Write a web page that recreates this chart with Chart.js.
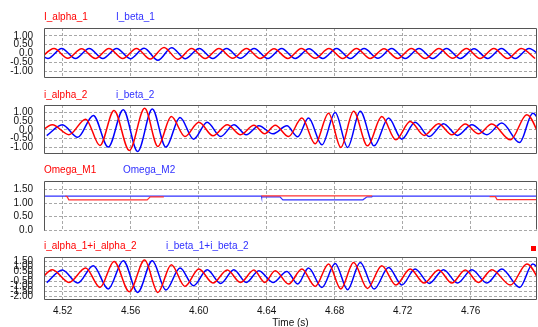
<!DOCTYPE html>
<html>
<head>
<meta charset="utf-8">
<script src="https://cdn.jsdelivr.net/npm/chart.js@4"></script>
<style>
  body { margin: 0; background: #fff; }
  #wrap { position: relative; width: 538px; height: 327px; overflow: hidden; font-family: "Liberation Sans", Arial, sans-serif; font-size: 10px; }
  canvas { position: absolute; left: 0; }
  .lbl { position: absolute; line-height: 12px; white-space: nowrap; }
  .red { color: #ff0000; }
  .blue { color: #3030ff; }
  #mark { position: absolute; left: 531px; top: 246px; width: 5px; height: 5px; background: #ff0000; }
</style>
</head>
<body>
<div id="wrap">
  <canvas id="c1" width="538" height="66" style="top:20px"></canvas>
  <canvas id="c2" width="538" height="65" style="top:97px"></canvas>
  <canvas id="c3" width="538" height="65" style="top:173px"></canvas>
  <canvas id="c4" width="538" height="81" style="top:249px"></canvas>

  <div class="lbl red" style="left:44px;top:11px">I_alpha_1</div>
  <div class="lbl blue" style="left:116px;top:11px">I_beta_1</div>
  <div class="lbl red" style="left:44px;top:89px">i_alpha_2</div>
  <div class="lbl blue" style="left:116px;top:89px">i_beta_2</div>
  <div class="lbl red" style="left:44px;top:164px">Omega_M1</div>
  <div class="lbl blue" style="left:123px;top:164px">Omega_M2</div>
  <div class="lbl red" style="left:44px;top:240px">i_alpha_1+i_alpha_2</div>
  <div class="lbl blue" style="left:166px;top:240px">i_beta_1+i_beta_2</div>
  <div id="mark"></div>
</div>
<script>
// time axis
const xMin = 4.509, xMax = 4.799;
const xTicks = [4.52, 4.56, 4.60, 4.64, 4.68, 4.72, 4.76];
const xTickLabels = ['4.52', '4.56', '4.60', '4.64', '4.68', '4.72', '4.76'];

// y ticks per panel
const y1Ticks = [1, 0.5, 0, -0.5, -1];
const y1Labels = ['1.00', '0.50', '0.0', '-0.50', '-1.00'];
const y3Ticks = [1.5, 1, 0.5, 0];
const y3Labels = ['1.50', '1.00', '0.50', '0.0'];
const y4Ticks = [1.5, 1, 0.5, 0, -0.5, -1, -1.5, -2];
const y4Labels = ['1.50', '1.00', '0.50', '0', '-0.50', '-1.00', '-1.50', '-2.00'];

// panel 1 : I_alpha_1 / I_beta_1 (peaks and troughs)
const alpha1T = [4.5068, 4.5149, 4.5230, 4.5311, 4.5392, 4.5472, 4.5553, 4.5634, 4.5715, 4.5796, 4.5877, 4.5958, 4.6038, 4.6119, 4.6200, 4.6281, 4.6362, 4.6443, 4.6524, 4.6604, 4.6685, 4.6766, 4.6847, 4.6928, 4.7009, 4.7090, 4.7170, 4.7251, 4.7332, 4.7413, 4.7494, 4.7575, 4.7655, 4.7736, 4.7817, 4.7898, 4.7979];
const alpha1V = [-0.27, 0.28, -0.27, 0.27, -0.28, 0.28, -0.28, 0.29, -0.31, 0.34, -0.32, 0.28, -0.28, 0.28, -0.27, 0.28, -0.28, 0.27, -0.28, 0.28, -0.27, 0.28, -0.28, 0.28, -0.28, 0.27, -0.28, 0.28, -0.28, 0.28, -0.27, 0.28, -0.28, 0.28, -0.28, 0.28, -0.28];
const beta1T = [4.5032, 4.5113, 4.5194, 4.5275, 4.5356, 4.5436, 4.5517, 4.5598, 4.5679, 4.5760, 4.5841, 4.5922, 4.6003, 4.6083, 4.6164, 4.6245, 4.6326, 4.6407, 4.6488, 4.6568, 4.6649, 4.6730, 4.6811, 4.6892, 4.6973, 4.7054, 4.7135, 4.7215, 4.7296, 4.7377, 4.7458, 4.7539, 4.7620, 4.7700, 4.7781, 4.7862, 4.7943, 4.8024];
const beta1V = [0.28, -0.28, 0.28, -0.28, 0.28, -0.28, 0.28, -0.29, 0.30, -0.38, 0.33, -0.29, 0.28, -0.28, 0.28, -0.27, 0.28, -0.28, 0.28, -0.28, 0.27, -0.28, 0.28, -0.28, 0.28, -0.27, 0.28, -0.28, 0.28, -0.28, 0.28, -0.28, 0.27, -0.28, 0.28, -0.28, 0.28, -0.28];

// panel 2 : i_alpha_2 / i_beta_2
const alpha2T = [4.5060, 4.5139, 4.5237, 4.5335, 4.5419, 4.5502, 4.5592, 4.5682, 4.5760, 4.5839, 4.5919, 4.6001, 4.6084, 4.6168, 4.6246, 4.6325, 4.6388, 4.6450, 4.6529, 4.6607, 4.6685, 4.6764, 4.6836, 4.6911, 4.6993, 4.7077, 4.7160, 4.7244, 4.7326, 4.7411, 4.7489, 4.7568, 4.7646, 4.7724, 4.7834, 4.7930, 4.8030];
const alpha2V = [-0.20, 0.28, -0.28, 0.60, -0.89, 1.09, -1.17, 1.21, -0.94, 0.75, -0.38, 0.43, -0.34, 0.28, -0.28, 0.25, -0.23, 0.25, -0.38, 0.66, -0.79, 0.94, -1.00, 1.04, -0.91, 0.75, -0.57, 0.47, -0.32, 0.34, -0.28, 0.32, -0.23, 0.32, -0.57, 0.85, -0.95];
const beta2T = [4.5106, 4.5198, 4.5288, 4.5380, 4.5468, 4.5556, 4.5641, 4.5727, 4.5807, 4.5890, 4.5970, 4.6050, 4.6129, 4.6207, 4.6280, 4.6354, 4.6437, 4.6519, 4.6582, 4.6646, 4.6725, 4.6803, 4.6876, 4.6950, 4.7032, 4.7117, 4.7195, 4.7273, 4.7356, 4.7440, 4.7522, 4.7607, 4.7695, 4.7783, 4.7888, 4.7965, 4.8060];
const beta2V = [-0.33, 0.28, -0.43, 0.81, -0.98, 1.13, -1.23, 1.17, -0.98, 0.70, -0.53, 0.43, -0.38, 0.28, -0.28, 0.23, -0.23, 0.22, -0.40, 0.66, -0.85, 0.98, -1.00, 1.04, -0.91, 0.66, -0.53, 0.43, -0.38, 0.34, -0.32, 0.28, -0.28, 0.38, -0.72, 0.94, -0.90];

// panel 3 : Omega_M1 / Omega_M2 (null = gap)
const m1T = [4.5216, 4.5226, 4.5236, 4.5697, 4.5715, 4.5795, 4.5796, 4.6369, 4.7020, 4.7021, 4.7711, 4.7745, 4.7755, 4.8000];
const m1V = [1.26, 1.24, 1.12, 1.12, 1.23, 1.23, null, 1.27, 1.27, null, 1.24, 1.24, 1.13, 1.13];
const m2T = [4.5000, 4.6369, 4.6370, 4.6478, 4.6495, 4.6966, 4.6990, 4.7018, 4.7022, 4.8000];
const m2V = [1.26, 1.26, 1.23, 1.23, 1.12, 1.12, 1.23, 1.23, 1.26, 1.26];

// panel 4 : sums (same time marks as panel 2)
const sumAlphaV = [-0.50, 0.70, -0.57, 0.87, -1.07, 1.53, -1.50, 1.67, -1.57, 1.20, -0.97, 0.77, -0.63, 0.67, -0.57, 0.67, -0.57, 0.60, -0.73, 0.77, -0.97, 1.27, -1.23, 1.43, -1.17, 1.10, -0.83, 0.77, -0.63, 0.67, -0.63, 0.67, -0.57, 0.70, -0.83, 1.27, -1.30];
const sumBetaV = [-0.60, 0.67, -0.63, 1.10, -1.23, 1.60, -1.57, 1.60, -1.33, 0.87, -0.90, 0.70, -0.67, 0.70, -0.57, 0.60, -0.57, 0.53, -0.73, 0.87, -1.07, 1.33, -1.30, 1.43, -1.23, 0.93, -0.83, 0.77, -0.67, 0.70, -0.63, 0.70, -0.63, 0.77, -1.07, 1.27, -1.30];

const RED = '#ff0000';
const BLUE = '#0000ff';

function pts(t, v) {
    return t.map((x, i) => ({ x: x, y: v[i] }));
}

const framePlugin = {
    id: 'frame',
    afterDraw(chart, args, opts) {
        const a = chart.chartArea;
        const ctx = chart.ctx;
        const l = Math.round(a.left) + 0.5, r = Math.round(a.right) - 0.5;
        const t = Math.round(a.top) + 0.5, b = Math.round(a.bottom) - 0.5;
        ctx.save();
        ctx.strokeStyle = '#555';
        ctx.lineWidth = 1;
        ctx.beginPath();
        ctx.moveTo(l, b + (opts.noBottom ? 1 : 0));
        ctx.lineTo(l, t);
        ctx.lineTo(r, t);
        ctx.lineTo(r, b);
        if (!opts.noBottom) ctx.lineTo(l, b);
        ctx.stroke();
        ctx.restore();
    }
};

function wave(label, data, color) {
    return {
        label: label,
        data: data,
        borderColor: color,
        borderWidth: 1.5,
        pointRadius: 0,
        cubicInterpolationMode: 'monotone',
        fill: false
    };
}

function step(label, data, color) {
    return {
        label: label,
        data: data,
        borderColor: color,
        borderWidth: 1.2,
        pointRadius: 0,
        tension: 0,
        spanGaps: false,
        fill: false
    };
}

function noPad(s) {
    s.paddingTop = 0;
    s.paddingBottom = 0;
    s.paddingLeft = 0;
    s.paddingRight = 0;
}

function makePanel(id, datasets, yMin, yMax, yTicks, yLabels, bottom, noBottom) {
    new Chart(document.getElementById(id), {
        type: 'line',
        data: { datasets: datasets },
        plugins: [framePlugin],
        options: {
            responsive: false,
            animation: false,
            events: [],
            layout: { autoPadding: false, padding: { top: 8, bottom: bottom ? 0 : 8, left: 0, right: 1 } },
            plugins: {
                legend: { display: false },
                tooltip: { enabled: false },
                frame: { noBottom: noBottom }
            },
            scales: {
                x: {
                    type: 'linear',
                    min: xMin,
                    max: xMax,
                    afterBuildTicks: s => { s.ticks = xTicks.map(v => ({ value: v })); },
                    afterFit: s => { s.height = bottom ? 30 : 0; noPad(s); },
                    grid: { color: '#a8a8a8', lineWidth: 1, drawTicks: false },
                    border: { display: false, dash: [3, 2] },
                    ticks: {
                        display: bottom,
                        autoSkip: false,
                        maxRotation: 0,
                        padding: 5,
                        color: '#111',
                        font: { family: 'Liberation Sans', size: 10 },
                        callback: v => xTickLabels[xTicks.indexOf(v)]
                    },
                    title: {
                        display: bottom,
                        text: 'Time (s)',
                        color: '#111',
                        font: { family: 'Liberation Sans', size: 10 },
                        padding: { top: 0, bottom: 1 }
                    }
                },
                y: {
                    min: yMin,
                    max: yMax,
                    afterBuildTicks: s => { s.ticks = yTicks.map(v => ({ value: v })); },
                    afterFit: s => { s.width = 44; noPad(s); },
                    grid: { color: '#a8a8a8', lineWidth: 1, drawTicks: false },
                    border: { display: false, dash: [3, 2] },
                    ticks: {
                        autoSkip: false,
                        padding: 11,
                        color: '#111',
                        font: { family: 'Liberation Sans', size: 10 },
                        callback: v => yLabels[yTicks.indexOf(v)]
                    }
                }
            }
        }
    });
}

makePanel('c1', [
    wave('I_alpha_1', pts(alpha1T, alpha1V), RED),
    wave('I_beta_1', pts(beta1T, beta1V), BLUE)
], -1.38, 1.44, y1Ticks, y1Labels, false, false);

makePanel('c2', [
    wave('i_alpha_2', pts(alpha2T, alpha2V), RED),
    wave('i_beta_2', pts(beta2T, beta2V), BLUE)
], -1.37, 1.40, y1Ticks, y1Labels, false, false);

makePanel('c3', [
    step('Omega_M1', pts(m1T, m1V), '#ff3030'),
    step('Omega_M2', pts(m2T, m2V), '#3030ff')
], 0, 1.82, y3Ticks, y3Labels, false, true);

makePanel('c4', [
    wave('i_alpha_1+i_alpha_2', pts(alpha2T, sumAlphaV), RED),
    wave('i_beta_1+i_beta_2', pts(beta2T, sumBetaV), BLUE)
], -2.33, 1.97, y4Ticks, y4Labels, true, false);
</script>
</body>
</html>
